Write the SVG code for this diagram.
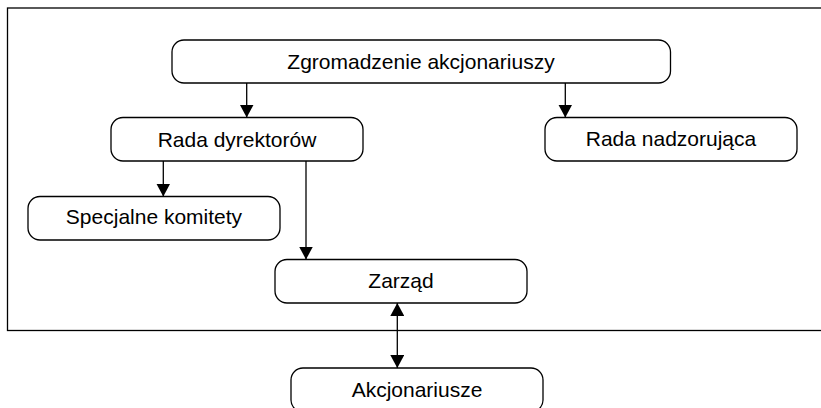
<svg xmlns="http://www.w3.org/2000/svg" width="821" height="408" viewBox="0 0 821 408">
<defs>
<marker id="arr" markerWidth="14" markerHeight="14" viewBox="0 0 14 14" refX="13" refY="7" orient="auto" markerUnits="userSpaceOnUse">
<path d="M0,0 L13,7 L0,14 Z" fill="#000"/>
</marker>
<marker id="arrs" markerWidth="14" markerHeight="14" viewBox="0 0 14 14" refX="1" refY="7" orient="auto" markerUnits="userSpaceOnUse">
<path d="M14,0 L1,7 L14,14 Z" fill="#000"/>
</marker>
</defs>
<style>
.box{fill:#fff;stroke:#000;stroke-width:1.3}
.lbl{font-family:"Liberation Sans",Arial,sans-serif;font-size:21px;fill:#000;text-anchor:middle}
.con{stroke:#000;stroke-width:1.3;fill:none}
</style>
<rect width="821" height="408" fill="#fff"/>
<rect id="frame" x="7.5" y="8" width="830" height="322.5" fill="none" stroke="#000" stroke-width="1.3"/>
<g id="n-zgromadzenie">
<rect class="box" x="172" y="40" width="498.5" height="43" rx="12"/>
<text class="lbl" x="421" y="68.5">Zgromadzenie akcjonariuszy</text>
</g>
<g id="n-rada-dyrektorow">
<rect class="box" x="111" y="117.5" width="252" height="43.5" rx="12"/>
<text class="lbl" x="237" y="146.5">Rada dyrektorów</text>
</g>
<g id="n-rada-nadzorujaca">
<rect class="box" x="545" y="117.5" width="252" height="43.5" rx="12"/>
<text class="lbl" x="671" y="145.5">Rada nadzorująca</text>
</g>
<g id="n-specjalne">
<rect class="box" x="28" y="196.5" width="252" height="43.5" rx="12"/>
<text class="lbl" x="154" y="224">Specjalne komitety</text>
</g>
<g id="n-zarzad">
<rect class="box" x="275" y="259.5" width="252" height="43.5" rx="12"/>
<text class="lbl" x="401" y="287.5">Zarząd</text>
</g>
<g id="n-akcjonariusze">
<rect class="box" x="291" y="368" width="252" height="44" rx="12"/>
<text class="lbl" x="417" y="396.5">Akcjonariusze</text>
</g>
<g id="connectors">
<line class="con" x1="246.7" y1="83" x2="246.7" y2="117.5" marker-end="url(#arr)"/>
<line class="con" x1="565.3" y1="83" x2="565.3" y2="117.5" marker-end="url(#arr)"/>
<line class="con" x1="163.3" y1="161" x2="163.3" y2="196.5" marker-end="url(#arr)"/>
<line class="con" x1="306" y1="161" x2="306" y2="259.5" marker-end="url(#arr)"/>
<line class="con" x1="397.3" y1="303" x2="397.3" y2="368" marker-start="url(#arrs)" marker-end="url(#arr)"/>
</g>
</svg>
